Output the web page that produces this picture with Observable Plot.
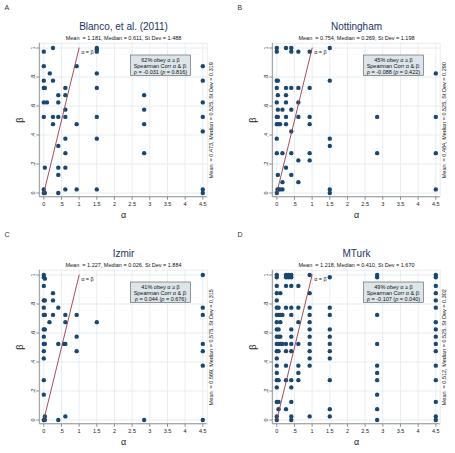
<!DOCTYPE html>
<html>
<head>
<meta charset="utf-8">
<script src="https://cdn.jsdelivr.net/npm/d3@7"></script>
<script src="https://cdn.jsdelivr.net/npm/@observablehq/plot@0.6"></script>
<style>
  html, body { margin: 0; padding: 0; background: #fff; }
  #grid { position: relative; width: 455px; height: 453px; overflow: hidden; background: #fff; }
  .panel { position: absolute; }
</style>
</head>
<body>
<div id="grid"></div>
<script>
// Elicited (alpha, beta) pairs per subject pool
const blancoPoints = [
  [0, .975], [.26, 1], [1.5, 1], [1.5, .99], [1.5, .975],
  [0, .875], [.93, .875], [4.5, .875],
  [.17, .825], [1.5, .825],
  [0, .775], [.26, .775], [4.5, .775],
  [0, .725], [.03, .725], [.61, .725], [1.5, .725],
  [.41, .675], [.61, .675], [2.84, .675],
  [0, .625], [.09, .625], [.41, .625], [4.5, .625],
  [.61, .575], [2.84, .575],
  [0, .525], [.26, .525], [.41, .525], [.61, .525], [1.5, .525], [4.5, .525],
  [.26, .475], [.93, .475], [2.84, .475],
  [4.5, .425],
  [.61, .375], [1.5, .375],
  [.41, .325],
  [.61, .275], [2.84, .275],
  [.03, .175], [.41, .175], [.61, .175],
  [.41, .125],
  [0, .025], [.61, .025], [.93, .025], [1.5, .025], [4.5, .025],
  [0, 0], [.03, 0], [.41, 0], [4.5, 0]
];

const nottinghamPoints = [
  [0, 1], [.26, 1], [.41, 1], [1.5, 1],
  [0, .975], [.41, .975], [.61, .975], [.93, .975],
  [4.5, .825],
  [0, .775], [.03, .775], [1.5, .775],
  [0, .725], [.26, .725], [.41, .725], [.61, .725], [.93, .725],
  [.03, .675], [.26, .675],
  [0, .625], [.26, .625], [.61, .625],
  [.03, .575], [.16, .575], [.41, .575],
  [0, .525], [.03, .525], [.26, .525], [.61, .525], [.93, .525], [2.84, .525], [4.5, .525],
  [0, .475], [.05, .475], [.09, .475], [.26, .475], [.93, .475],
  [.41, .425],
  [0, .375], [1.5, .375],
  [1.5, .325],
  [0, .275], [.16, .275], [.41, .275], [.93, .275], [2.84, .275], [4.5, .275],
  [.61, .225], [.93, .225],
  [.26, .175],
  [.03, .125], [.41, .125],
  [.16, .075], [.61, .075],
  [.02, .025], [.05, .025], [.09, .025], [.16, .025], [1.5, .025], [4.5, .025],
  [0, 0], [1.5, 0]
];

const izmirPoints = [
  [0, 1], [4.5, 1], [0, .985], [.03, .975],
  [0, .925],
  [.26, .875],
  [0, .825], [.03, .825], [.26, .825],
  [0, .775], [.41, .775], [4.5, .775],
  [0, .725], [.03, .725], [.26, .725], [.61, .725], [.93, .725], [4.5, .725],
  [.16, .675], [.61, .675], [1.5, .675],
  [0, .625], [.03, .625],
  [0, .575], [.93, .575],
  [0, .525], [.03, .525], [.41, .525], [.57, .525], [.61, .525], [4.5, .525],
  [0, .475], [.93, .475], [4.5, .475],
  [0, .425],
  [4.5, .375],
  [0, .275],
  [0, .175],
  [.03, .025], [.61, .025],
  [0, 0], [.03, 0], [.41, 0], [2.84, 0], [4.5, 0]
];

const mturkPoints = [
  [0, 1], [.26, 1], [.33, 1], [.41, 1], [.93, 1], [2.84, 1], [4.5, 1],
  [0, .985], [.26, .985], [.33, .985], [.41, .985], [1.5, .985], [2.84, .985], [4.5, .985],
  [0, .925], [.26, .925], [.41, .925], [.61, .925], [4.5, .925],
  [0, .875], [.1, .875], [.93, .875], [4.5, .875],
  [0, .825], [4.5, .825],
  [0, .775], [.05, .775], [.26, .775], [.41, .775], [.61, .775], [.93, .775], [1.5, .775], [4.5, .775],
  [0, .725], [.05, .725], [.1, .725], [.16, .725], [.41, .725], [.93, .725], [1.5, .725], [2.84, .725],
  [0, .675], [.1, .675], [.61, .675], [.93, .675], [4.5, .675],
  [0, .625], [.05, .625], [.41, .625], [.93, .625], [1.5, .625], [4.5, .625],
  [0, .575], [.05, .575], [.1, .575], [.41, .575], [.93, .575], [1.5, .575], [4.5, .575],
  [0, .525], [.05, .525], [.1, .525], [.16, .525], [.26, .525], [.41, .525], [.61, .525], [.93, .525], [1.5, .525], [2.84, .525], [4.5, .525],
  [0, .475], [.05, .475], [.26, .475], [.41, .475], [.93, .475], [1.5, .475], [4.5, .475],
  [0, .425], [.93, .425], [1.5, .425],
  [0, .375], [.26, .375], [.61, .375], [.93, .375], [2.84, .375], [4.5, .375],
  [0, .325], [.61, .325], [2.84, .325],
  [0, .275], [.05, .275], [.26, .275], [.41, .275], [.61, .275], [1.5, .275], [2.84, .275], [4.5, .275],
  [0, .225], [.41, .225],
  [2.84, .175],
  [0, .125], [.05, .125], [.41, .125], [4.5, .125],
  [.05, .075], [.26, .075], [1.5, .075], [2.84, .075],
  [0, .025], [.41, .025], [.93, .025], [1.5, .025], [4.5, .025],
  [0, 0], [.41, 0], [2.84, 0], [4.5, 0]
];

const panelPoints = [blancoPoints, nottinghamPoints, izmirPoints, mturkPoints];
const panelLetters = ["A", "B", "C", "D"];
const panelTitles = ["Blanco, et al. (2011)", "Nottingham", "Izmir", "MTurk"];
const alphaStats = [
  "Mean\u00a0\u00a0= 1.181, Median = 0.611, St Dev = 1.488",
  "Mean\u00a0\u00a0= 0.754, Median = 0.269, St Dev = 1.198",
  "Mean\u00a0\u00a0= 1.227, Median = 0.026, St Dev = 1.884",
  "Mean\u00a0\u00a0= 1.218, Median = 0.410, St Dev = 1.670"
];
const betaStats = [
  "Mean\u00a0\u00a0= 0.473, Median = 0.525, St Dev = 0.319",
  "Mean\u00a0\u00a0= 0.484, Median = 0.525, St Dev = 0.290",
  "Mean\u00a0\u00a0= 0.569, Median = 0.575, St Dev = 0.315",
  "Mean\u00a0\u00a0= 0.512, Median = 0.525, St Dev = 0.302"
];
const obeyShares = ["62%", "45%", "41%", "49%"];
const spearmanRho = ["-0.031", "-0.088", "0.044", "-0.107"];
const spearmanP = ["0.816", "0.422", "0.676", "0.040"];

const xTicks = [0, .5, 1, 1.5, 2, 2.5, 3, 3.5, 4, 4.5];
const yTicks = [0, .2, .4, .6, .8, 1];
const identityLine = [0, 1];

// Styling
const FONT = "'Liberation Sans', Arial, Helvetica, sans-serif";
const DOT = "#1a476f";
const LINE = "#983a4b";
const GRID = "#e7edf0";
const AXIS = "#8c8c8c";
const TITLE = "#1d3461";
const W = 222, H = 227;
const frame = {left: 39.3, right: 206.7, top: 42.7, bottom: 196.7};
const offsets = [[0, 0], [233, 0], [0, 227], [233, 227]];

const fmt = d => d === 0 ? "0" : String(d).replace(/^0\./, ".");

function drawPanel(i) {
  const svg = Plot.plot({
    width: W,
    height: H,
    marginLeft: frame.left,
    marginRight: W - frame.right,
    marginTop: frame.top,
    marginBottom: H - frame.bottom,
    style: {fontFamily: FONT, fontSize: "5.5px", background: "white", overflow: "visible"},
    x: {domain: [0, 4.5], range: [43.3, 202.3], axis: null},
    y: {domain: [0, 1], range: [192.5, 47.5], axis: null},
    marks: [
      Plot.frame({stroke: GRID}),
      Plot.gridX(xTicks, {stroke: GRID, strokeOpacity: 1}),
      Plot.gridY(yTicks, {stroke: GRID, strokeOpacity: 1}),
      Plot.axisX(xTicks, {tickSize: 3, tickPadding: 1.5, tickFormat: fmt, fontSize: 5.5, stroke: AXIS, fill: "#222", label: null}),
      Plot.axisY(yTicks, {tickSize: 3, tickFormat: () => "", stroke: AXIS, label: null}),
      Plot.text(yTicks, {y: d => d, frameAnchor: "left", textAnchor: "middle", dx: -7, rotate: -90, text: fmt, fontSize: 5.5, fill: "#222"}),
      Plot.dot(panelPoints[i], {x: d => d[0], y: d => d[1], r: 2.2, fill: DOT}),
      Plot.line(identityLine, {x: d => d, y: d => d, stroke: LINE, strokeWidth: 0.9}),
      Plot.text([identityLine[1]], {x: d => d, y: d => d, text: () => "α = β", textAnchor: "start", dx: 2, dy: 4.7, fontSize: 5.5, fill: "#222"}),
      Plot.text([panelTitles[i]], {frameAnchor: "top", textAnchor: "middle", dy: -13.2, lineAnchor: "bottom", text: d => d, fontSize: 10, fill: TITLE}),
      Plot.text([alphaStats[i]], {frameAnchor: "top", textAnchor: "middle", dy: -3.3, lineAnchor: "bottom", text: d => d, fontSize: 5.5, fill: "#111"}),
      Plot.text([betaStats[i]], {frameAnchor: "right", textAnchor: "middle", dx: 4.3, rotate: -90, text: d => d, fontSize: 5.5, fill: "#111"}),
      Plot.text(["α"], {frameAnchor: "bottom", textAnchor: "middle", dy: 20.6, lineAnchor: "bottom", text: d => d, fontSize: 9, fill: "#222"}),
      Plot.text(["β"], {frameAnchor: "left", textAnchor: "middle", dx: -19.6, rotate: -90, text: d => d, fontSize: 9, fill: "#222"}),
      Plot.text([panelLetters[i]], {frameAnchor: "top-left", dx: -35.3, dy: -33.4, lineAnchor: "bottom", textAnchor: "start", text: d => d, fontSize: 7, fill: "#333"})
    ]
  });

  const s = d3.select(svg);
  // Axis lines along the left and bottom of the plot region
  s.append("line")
    .attr("x1", frame.left).attr("x2", frame.left)
    .attr("y1", frame.top).attr("y2", frame.bottom)
    .attr("stroke", AXIS).attr("stroke-width", 0.9);
  s.append("line")
    .attr("x1", frame.left).attr("x2", frame.right)
    .attr("y1", frame.bottom).attr("y2", frame.bottom)
    .attr("stroke", AXIS).attr("stroke-width", 0.9);

  // Note box with share obeying the constraint and Spearman correlation
  const boxW = 60, boxH = 20.5;
  const bx = frame.right - 16.2 - boxW, by = frame.top + 12.3;
  const g = s.append("g")
    .attr("font-family", FONT).attr("font-size", 5.5)
    .attr("fill", "#111").attr("text-anchor", "middle");
  g.append("rect")
    .attr("x", bx).attr("y", by).attr("width", boxW).attr("height", boxH)
    .attr("fill", "#dce5ea").attr("stroke", "#555").attr("stroke-width", 0.6);
  const cx = bx + boxW / 2;
  g.append("text").attr("x", cx).attr("y", by + 7.3).text(`${obeyShares[i]} obey α ≥ β`);
  g.append("text").attr("x", cx).attr("y", by + 13.1).text("Spearman Corr α & β:");
  const t3 = g.append("text").attr("x", cx).attr("y", by + 18.9);
  t3.append("tspan").text(`ρ = ${spearmanRho[i]} (`);
  t3.append("tspan").attr("font-style", "italic").text("p");
  t3.append("tspan").text(` = ${spearmanP[i]})`);

  const div = document.createElement("div");
  div.className = "panel";
  div.style.left = offsets[i][0] + "px";
  div.style.top = offsets[i][1] + "px";
  div.appendChild(svg);
  document.getElementById("grid").appendChild(div);
}

for (let i = 0; i < 4; i++) drawPanel(i);
</script>
</body>
</html>
